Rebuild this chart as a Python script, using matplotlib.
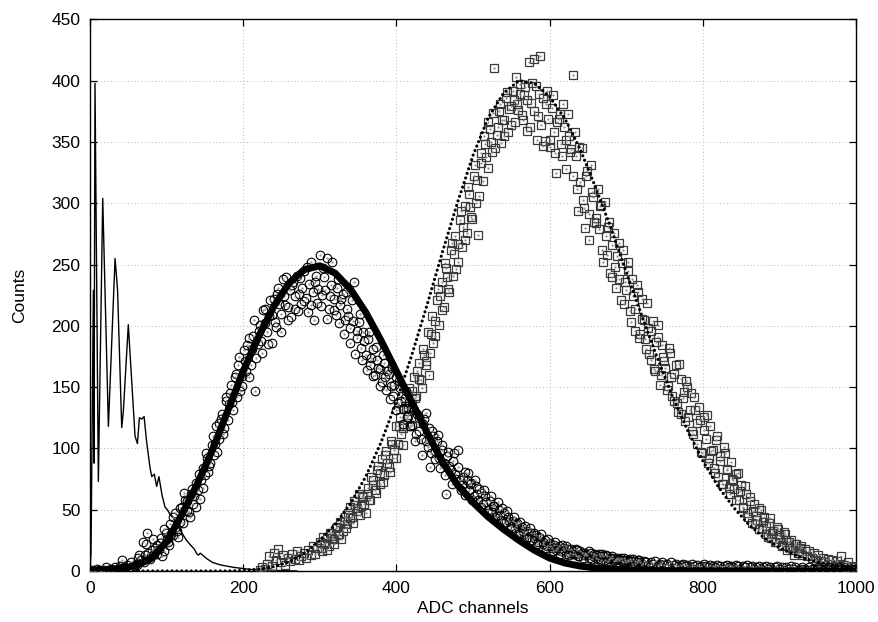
import numpy as np
import matplotlib.pyplot as plt

plt.rcParams['font.family'] = ['Liberation Sans', 'DejaVu Sans']

# pedestal / single photo-electron spectrum (thin line)
ped_x = [0, 1.3, 4.4, 5.2, 6.5, 10.9, 16.6, 24, 32.7, 36, 41.4, 43.6, 50, 58.8, 61.9,
         64.5, 67.5, 70.6, 74, 78.4, 80.6, 84, 87, 90, 94, 98, 101, 104.6, 109, 115,
         120, 126, 133, 136, 139.5, 141.5, 144, 152.5, 160, 170, 187, 200, 214, 240, 270]
ped_y = [0, 15, 229, 88, 398, 73, 304, 118, 255, 229, 117, 131, 201, 110, 104,
         125, 124, 126, 105, 84, 77, 79, 69, 77, 62, 52, 50, 46, 43, 36,
         31, 25, 20, 18, 14, 13, 14.5, 10, 7, 5, 3, 2, 1, 0.5, 0]

# circles: channels 0..999 step 3
circ_x_a = np.arange(0, 1000, 3)
circ_y_a = [
    0, 1, 0, 2, 1, 0, 1, 3, 1, 2,
    1, 3, 2, 4, 9, 3, 5, 2, 7, 4,
    6, 11, 9, 24, 13, 31, 10, 17, 14, 21,
    18, 27, 16, 31, 24, 38, 29, 47, 33, 40,
    52, 64, 57, 48, 63, 55, 72, 66, 59, 84,
    78, 92, 86, 103, 95, 118, 108, 124, 112, 139,
    123, 145, 138, 158, 142, 175, 151, 180, 163, 190,
    168, 192, 147, 185, 201, 178, 214, 195, 208, 186,
    222, 199, 231, 210, 238, 217, 205, 229, 233, 214,
    241, 226, 218, 245, 223, 211, 252, 228, 236, 219,
    258, 225, 240, 255, 214, 233, 222, 209, 238, 217,
    226, 205, 214, 198, 221, 236, 190, 203, 182, 195,
    176, 189, 168, 181, 160, 172, 165, 154, 170, 148,
    161, 151, 143, 158, 137, 149, 132, 141, 126, 138,
    119, 131, 112, 125, 108, 120, 129, 101, 85, 114,
    98, 106, 92, 103, 88, 63, 97, 82, 90, 79,
    99, 74, 70, 81, 74, 66, 72, 61, 69, 58,
    64, 55, 61, 50, 57, 48, 53, 45, 50, 42,
    47, 40, 44, 37, 41, 35, 39, 31, 36, 30,
    33, 28, 31, 27, 29, 24, 27, 22, 25, 20,
    23, 19, 21, 17, 20, 16, 19, 14, 18, 15,
    16, 14, 17, 12, 15, 13, 14, 11, 15, 12,
    13, 10, 12, 14, 9, 12, 10, 11, 8, 10,
    9, 11, 7, 9, 8, 10, 6, 8, 7, 9,
    6, 8, 7, 5, 7, 6, 8, 5, 6, 7,
    5, 6, 4, 7, 5, 6, 4, 5, 6, 4,
    5, 3, 6, 4, 5, 3, 4, 6, 4, 3,
    5, 4, 3, 5, 4, 2, 4, 5, 3, 4,
    3, 5, 4, 2, 4, 3, 5, 3, 4, 2,
    3, 4, 2, 3, 4, 2, 3, 1, 3, 4,
    2, 3, 1, 3, 2, 4, 2, 3, 1, 2,
    3, 2, 1, 3, 2, 2, 1, 3, 2, 1,
    2, 3, 1, 2, 2, 1, 3, 2, 1, 2,
    1, 2, 1, 2,
]
# circles: channels 61..718 step 3 (in between the above)
circ_x_b = np.arange(61, 719, 3)
circ_y_b = [
    5, 13, 9, 7, 22, 15, 12, 26, 19, 14,
    23, 12, 34, 26, 21, 30, 44, 36, 28, 51,
    39, 58, 49, 44, 67, 61, 52, 79, 74, 68,
    96, 81, 88, 110, 104, 97, 121, 128, 117, 142,
    136, 152, 131, 161, 168, 147, 159, 171, 184, 158,
    181, 205, 174, 196, 188, 213, 202, 185, 221, 209,
    203, 226, 218, 195, 224, 240, 215, 207, 236, 224,
    212, 239, 231, 220, 248, 234, 217, 205, 241, 230,
    216, 247, 229, 206, 224, 252, 213, 231, 202, 222,
    193, 228, 208, 186, 204, 177, 196, 210, 172, 188,
    164, 195, 174, 159, 183, 166, 151, 176, 158, 163,
    140, 166, 152, 131, 155, 139, 120, 147, 133, 118,
    134, 106, 128, 114, 95, 124, 106, 117, 96, 110,
    91, 111, 84, 99, 78, 94, 86, 71, 96, 75,
    85, 66, 77, 62, 80, 71, 58, 74, 63, 67,
    52, 66, 56, 47, 61, 53, 44, 56, 46, 51,
    39, 49, 41, 34, 44, 38, 30, 40, 33, 37,
    27, 35, 25, 31, 22, 28, 30, 24, 19, 26,
    20, 16, 24, 19, 14, 21, 17, 20, 13, 18,
    14, 18, 12, 16, 11, 15, 13, 16, 10, 14,
    11, 14, 9, 12, 13, 8, 11, 12, 9, 11,
    10, 8, 11, 7, 9, 8, 10, 6, 9, 7,
]

# squares: channels 222..999 step 3
sq_x_a = np.arange(222, 1000, 3)
sq_y_a = [
    1, 3, 2, 6, 12, 4, 15, 9, 18, 7,
    13, 5, 11, 8, 14, 10, 16, 9, 12, 15,
    11, 17, 13, 20, 14, 19, 24, 16, 22, 27,
    20, 31, 26, 35, 29, 40, 33, 44, 38, 52,
    44, 57, 49, 63, 53, 60, 47, 68, 58, 74,
    66, 82, 71, 91, 78, 98, 85, 106, 92, 118,
    104, 126, 117, 138, 124, 149, 136, 158, 143, 170,
    156, 181, 168, 195, 178, 208, 192, 221, 201, 236,
    215, 247, 230, 262, 241, 273, 252, 286, 264, 298,
    276, 308, 289, 322, 300, 274, 333, 318, 348, 329,
    361, 342, 410, 356, 375, 349, 368, 386, 358, 379,
    392, 366, 381, 397, 372, 388, 359, 415, 382, 418,
    396, 371, 420, 386, 351, 392, 346, 378, 358, 325,
    369, 348, 381, 352, 373, 342, 405, 358, 312, 346,
    345, 296, 322, 270, 331, 305, 284, 312, 298, 262,
    301, 258, 285, 240, 276, 231, 268, 221, 262, 236,
    252, 212, 238, 196, 233, 190, 222, 205, 181, 198,
    172, 204, 163, 191, 152, 184, 171, 148, 182, 158,
    139, 168, 130, 157, 141, 122, 150, 131, 114, 142,
    121, 134, 97, 126, 108, 88, 118, 99, 80, 110,
    94, 71, 101, 82, 68, 89, 74, 58, 80, 65,
    52, 69, 47, 60, 39, 55, 45, 34, 50, 40,
    37, 28, 43, 31, 24, 36, 29, 20, 32, 25,
    20, 25, 17, 22, 15, 19, 13, 18, 12, 16,
    11, 15, 9, 13, 8, 11, 7, 10, 6, 9,
    5, 8, 4, 12, 5, 3, 7, 4, 2, 3,
]
# squares: channels 301..928 step 3 (in between the above)
sq_x_b = np.arange(301, 929, 3)
sq_y_b = [
    19, 28, 23, 17, 31, 27, 22, 36, 30, 26,
    41, 35, 47, 43, 39, 54, 51, 46, 61, 55,
    63, 58, 77, 70, 64, 86, 80, 73, 95, 88,
    81, 104, 99, 92, 118, 112, 103, 133, 127, 118,
    147, 141, 163, 157, 149, 176, 171, 160, 193, 186,
    204, 230, 224, 213, 251, 240, 228, 268, 259, 246,
    267, 294, 281, 270, 313, 297, 287, 331, 319, 306,
    341, 355, 338, 366, 350, 374, 345, 362, 381, 368,
    355, 391, 377, 364, 384, 403, 376, 389, 368, 395,
    384, 362, 398, 375, 352, 389, 364, 347, 381, 369,
    352, 388, 341, 366, 373, 339, 362, 328, 355, 344,
    322, 339, 294, 317, 303, 280, 326, 291, 309, 285,
    288, 279, 299, 252, 273, 281, 243, 266, 248, 257,
    238, 251, 218, 229, 245, 203, 224, 214, 228, 193,
    206, 189, 219, 177, 196, 165, 187, 201, 160, 175,
    166, 151, 178, 143, 161, 137, 169, 128, 146, 155,
    126, 145, 112, 131, 104, 123, 96, 115, 127, 92,
    98, 84, 107, 77, 90, 71, 96, 83, 63, 75,
    67, 79, 58, 70, 51, 63, 44, 57, 49, 38,
    42, 51, 35, 44, 30, 39, 27, 33, 24, 34,
    26, 21, 30, 17, 24, 19, 13, 22, 16, 20,
]

circ_x = np.concatenate([circ_x_a, circ_x_b])
circ_y = np.concatenate([circ_y_a, circ_y_b])
sq_x = np.concatenate([sq_x_a, sq_x_b])
sq_y = np.concatenate([sq_y_a, sq_y_b])

# fitted curves, sampled every 20 channels
fit_x = np.arange(0, 1001, 20)
circ_fit = [0.5, 1, 2, 4.5, 10, 24, 46, 71, 99, 131,
            163, 191, 216, 235, 246, 249, 243, 230, 211, 188,
            163, 138, 113, 89, 70, 56, 44, 34, 25, 17,
            10.5, 6.5, 4, 2.5, 1.5, 1, 0.6, 0.4, 0.3, 0.2,
            0.1, 0, 0, 0, 0, 0, 0, 0, 0, 0, 0]
sq_fit = [0, 0, 0, 0, 0, 0, 0, 0, 0, 0,
          0.5, 1.5, 3.5, 7.5, 14.5, 25, 38, 55, 77, 105,
          138, 176, 217, 260, 301, 339, 370, 390, 400, 398,
          387, 369, 344, 313, 280, 244, 209, 175, 143, 115,
          90, 69, 52, 38, 27, 19, 13, 9, 6, 4, 2.5]

fig = plt.figure(figsize=(8.79, 6.22), dpi=100)
ax = fig.add_axes([0.1024, 0.082, 0.8714, 0.8867])

ax.plot(ped_x, ped_y, color='black', lw=1.0, zorder=3)
ax.plot(sq_x, sq_y, ls='none', marker='s', ms=5.8, mfc='none', mec='#3a3a3a', mew=0.9, zorder=4)
ax.plot(sq_x, sq_y, ls='none', marker='.', ms=1.2, color='#888888', zorder=4)
ax.plot(circ_x, circ_y, ls='none', marker='o', ms=6.2, mfc='none', mec='black', mew=0.8, zorder=5)
ax.plot(circ_x, circ_y, ls='none', marker='.', ms=1.2, color='#888888', zorder=5)
ax.plot(fit_x, sq_fit, color='black', lw=2.3, ls=(0, (0.01, 1.5)), dash_capstyle='round', zorder=6)
ax.plot(fit_x, circ_fit, color='black', lw=5, solid_capstyle='round', zorder=7)

ax.set_xlim(0, 1000)
ax.set_ylim(0, 450)
ax.set_xticks(range(0, 1001, 200))
ax.set_yticks(range(0, 451, 50))
ax.grid(True, color='#b8b8b8', lw=0.7, ls=(0, (1, 2.5)))
ax.set_axisbelow(True)
ax.tick_params(direction='in', length=5, width=0.9, top=True, right=True, labelsize=12.5, pad=7)
for s in ax.spines.values():
    s.set_linewidth(1.0)

ax.set_xlabel('ADC channels', fontsize=12.5, va='center')
ax.xaxis.set_label_coords(0.5, -0.068)
ax.set_ylabel('Counts', fontsize=12.5, va='center')
ax.yaxis.set_label_coords(-0.092, 0.5)

fig.savefig('out.png', dpi=100)
